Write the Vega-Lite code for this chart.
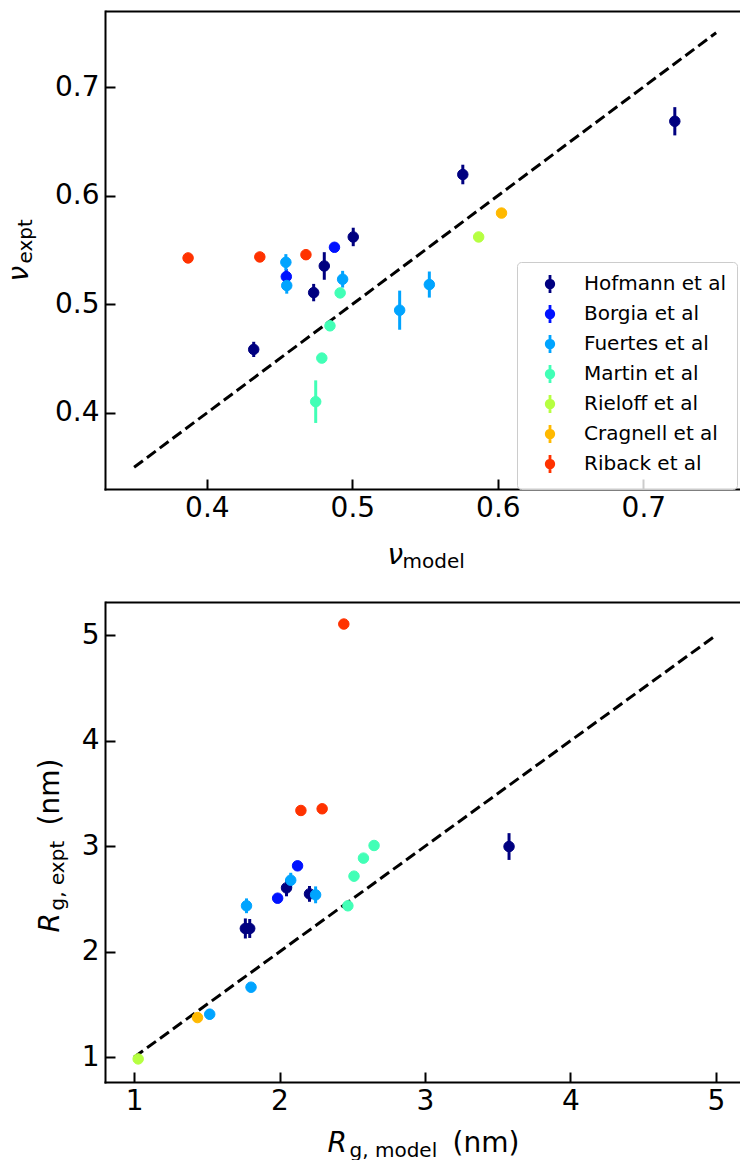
{
  "$schema": "https://vega.github.io/schema/vega-lite/v6.json",
  "padding": {"left": 5, "top": 11, "right": 0, "bottom": 0},
  "background": "white",
  "config": {
    "view": {"stroke": null},
    "font": "DejaVu Sans",
    "axis": {
      "labelFont": "DejaVu Sans", "labelFontSize": 28, "labelColor": "black",
      "titleFont": "DejaVu Sans", "titleColor": "black", "titleFontWeight": "normal",
      "domainColor": "black", "domainWidth": 2, "domainCap": "square",
      "tickColor": "black", "tickWidth": 2, "grid": false,
      "labelFlush": false, "labelOverlap": false
    },
    "legend": {
      "labelFont": "DejaVu Sans", "labelFontSize": 20, "labelColor": "black",
      "padding": 10, "rowPadding": 0, "fillColor": "rgba(255,255,255,0.8)",
      "strokeColor": "#cccccc", "cornerRadius": 4, "labelLimit": 300
    }
  },
  "datasets": {
    "nu": [
      {"group": "Hofmann et al", "x": 0.7216, "y": 0.6685, "lo": 0.6555, "hi": 0.6815},
      {"group": "Hofmann et al", "x": 0.5759, "y": 0.6195, "lo": 0.6105, "hi": 0.6285},
      {"group": "Hofmann et al", "x": 0.5006, "y": 0.562, "lo": 0.5535, "hi": 0.5705},
      {"group": "Hofmann et al", "x": 0.4807, "y": 0.5353, "lo": 0.5226, "hi": 0.548},
      {"group": "Hofmann et al", "x": 0.4734, "y": 0.5108, "lo": 0.5028, "hi": 0.5188},
      {"group": "Hofmann et al", "x": 0.4322, "y": 0.4585, "lo": 0.4515, "hi": 0.4655},
      {"group": "Borgia et al", "x": 0.4877, "y": 0.5525, "lo": 0.5495, "hi": 0.5555},
      {"group": "Borgia et al", "x": 0.4546, "y": 0.5255, "lo": 0.5185, "hi": 0.5325},
      {"group": "Fuertes et al", "x": 0.4543, "y": 0.5387, "lo": 0.5312, "hi": 0.5462},
      {"group": "Fuertes et al", "x": 0.4549, "y": 0.5173, "lo": 0.5098, "hi": 0.5248},
      {"group": "Fuertes et al", "x": 0.4933, "y": 0.5231, "lo": 0.5154, "hi": 0.5308},
      {"group": "Fuertes et al", "x": 0.5325, "y": 0.4946, "lo": 0.4766, "hi": 0.5126},
      {"group": "Fuertes et al", "x": 0.5529, "y": 0.5182, "lo": 0.5062, "hi": 0.5302},
      {"group": "Martin et al", "x": 0.4916, "y": 0.5105, "lo": 0.5065, "hi": 0.5145},
      {"group": "Martin et al", "x": 0.4846, "y": 0.4802, "lo": 0.4762, "hi": 0.4842},
      {"group": "Martin et al", "x": 0.479, "y": 0.4505, "lo": 0.4465, "hi": 0.4545},
      {"group": "Martin et al", "x": 0.4748, "y": 0.4104, "lo": 0.3908, "hi": 0.43},
      {"group": "Rieloff et al", "x": 0.5868, "y": 0.562, "lo": 0.56, "hi": 0.564},
      {"group": "Cragnell et al", "x": 0.6025, "y": 0.584, "lo": 0.581, "hi": 0.587},
      {"group": "Riback et al", "x": 0.3871, "y": 0.5427, "lo": 0.5427, "hi": 0.5427},
      {"group": "Riback et al", "x": 0.4364, "y": 0.5436, "lo": 0.5436, "hi": 0.5436},
      {"group": "Riback et al", "x": 0.4681, "y": 0.5457, "lo": 0.5457, "hi": 0.5457}
    ],
    "nuLine": [{"x": 0.35, "y": 0.35}, {"x": 0.75, "y": 0.75}],
    "rg": [
      {"group": "Hofmann et al", "x": 3.578, "y": 2.998, "lo": 2.871, "hi": 3.125},
      {"group": "Hofmann et al", "x": 1.765, "y": 2.221, "lo": 2.126, "hi": 2.316},
      {"group": "Hofmann et al", "x": 1.795, "y": 2.221, "lo": 2.131, "hi": 2.311},
      {"group": "Hofmann et al", "x": 2.048, "y": 2.606, "lo": 2.526, "hi": 2.686},
      {"group": "Hofmann et al", "x": 2.206, "y": 2.549, "lo": 2.474, "hi": 2.624},
      {"group": "Borgia et al", "x": 1.987, "y": 2.508, "lo": 2.488, "hi": 2.528},
      {"group": "Borgia et al", "x": 2.124, "y": 2.815, "lo": 2.795, "hi": 2.835},
      {"group": "Fuertes et al", "x": 1.773, "y": 2.436, "lo": 2.366, "hi": 2.506},
      {"group": "Fuertes et al", "x": 2.077, "y": 2.679, "lo": 2.609, "hi": 2.749},
      {"group": "Fuertes et al", "x": 2.248, "y": 2.54, "lo": 2.46, "hi": 2.62},
      {"group": "Fuertes et al", "x": 1.804, "y": 1.664, "lo": 1.634, "hi": 1.694},
      {"group": "Fuertes et al", "x": 1.52, "y": 1.408, "lo": 1.358, "hi": 1.458},
      {"group": "Martin et al", "x": 2.47, "y": 2.436, "lo": 2.416, "hi": 2.456},
      {"group": "Martin et al", "x": 2.512, "y": 2.717, "lo": 2.697, "hi": 2.737},
      {"group": "Martin et al", "x": 2.577, "y": 2.888, "lo": 2.868, "hi": 2.908},
      {"group": "Martin et al", "x": 2.65, "y": 3.008, "lo": 2.988, "hi": 3.028},
      {"group": "Rieloff et al", "x": 1.028, "y": 0.984, "lo": 0.964, "hi": 1.004},
      {"group": "Cragnell et al", "x": 1.436, "y": 1.376, "lo": 1.356, "hi": 1.396},
      {"group": "Riback et al", "x": 2.442, "y": 5.108, "lo": 5.108, "hi": 5.108},
      {"group": "Riback et al", "x": 2.147, "y": 3.34, "lo": 3.34, "hi": 3.34},
      {"group": "Riback et al", "x": 2.293, "y": 3.356, "lo": 3.356, "hi": 3.356}
    ],
    "rgLine": [{"x": 1, "y": 1}, {"x": 5, "y": 5}]
  },
  "spacing": 31,
  "resolve": {
    "scale": {"fill": "independent", "stroke": "independent"},
    "legend": {"fill": "independent", "stroke": "independent"}
  },
  "vconcat": [
    {
      "width": 635,
      "height": 478,
      "resolve": {"axis": {"x": "independent", "y": "independent"}},
      "layer": [
        {
          "data": {"name": "nuLine"},
          "mark": {"type": "line", "color": "black", "strokeWidth": 3, "strokeDash": [11, 5]},
          "encoding": {
            "x": {"field": "x", "type": "quantitative",
              "scale": {"domain": [0.33, 0.7664], "nice": false, "zero": false},
              "axis": {"orient": "bottom", "values": [0.4, 0.5, 0.6, 0.7], "format": ".1f",
                "tickSize": -10, "labelPadding": 15,
                "title": "ν", "titleFontStyle": "italic", "titleFontSize": 28,
                "titleX": 282, "titleY": 74, "titleAlign": "left", "titleBaseline": "alphabetic", "titleAngle": 0}},
            "y": {"field": "y", "type": "quantitative",
              "scale": {"domain": [0.33, 0.77], "nice": false, "zero": false},
              "axis": {"orient": "left", "values": [0.4, 0.5, 0.6, 0.7], "format": ".1f",
                "tickSize": -10, "labelPadding": 16,
                "title": "ν", "titleFontStyle": "italic", "titleFontSize": 28,
                "titleX": -78, "titleY": 270, "titleAlign": "left", "titleBaseline": "alphabetic", "titleAngle": 270}}
          }
        },
        {
          "data": {"name": "nu"},
          "mark": {"type": "rule", "strokeWidth": 3},
          "encoding": {
            "x": {"field": "x", "type": "quantitative",
              "scale": {"domain": [0.33, 0.7664], "nice": false, "zero": false},
              "axis": {"orient": "bottom", "domain": false, "ticks": false, "labels": false,
                "title": "model", "titleFontSize": 20,
                "titleX": 297, "titleY": 78, "titleAlign": "left", "titleBaseline": "alphabetic", "titleAngle": 0}},
            "y": {"field": "lo", "type": "quantitative",
              "scale": {"domain": [0.33, 0.77], "nice": false, "zero": false},
              "axis": {"orient": "left", "domain": false, "ticks": false, "labels": false,
                "values": [0.77], "grid": true, "gridColor": "black", "gridWidth": 2, "gridOpacity": 1,
                "title": "expt", "titleFontSize": 20,
                "titleX": -74, "titleY": 252, "titleAlign": "left", "titleBaseline": "alphabetic", "titleAngle": 270}},
            "y2": {"field": "hi"},
            "stroke": {"field": "group", "type": "nominal",
              "scale": {"domain": ["Hofmann et al", "Borgia et al", "Fuertes et al", "Martin et al", "Rieloff et al", "Cragnell et al", "Riback et al"],
                "range": ["#000080", "#0012ff", "#00a4ff", "#41ffb6", "#b6ff41", "#ffb900", "#ff3200"]},
              "legend": {"title": null, "orient": "none", "legendX": 412, "legendY": 251,
                "symbolType": "M-0.36,0A0.36,0.36,0,1,1,0.36,0A0.36,0.36,0,1,1,-0.36,0ZM0,-0.86L0,0.86",
                "symbolSize": 441, "symbolStrokeWidth": 2.8, "symbolOffset": 11, "labelOffset": 22}}
          }
        },
        {
          "data": {"name": "nu"},
          "mark": {"type": "point", "shape": "circle", "filled": true, "size": 110, "opacity": 1, "strokeWidth": 1},
          "encoding": {
            "x": {"field": "x", "type": "quantitative",
              "scale": {"domain": [0.33, 0.7664], "nice": false, "zero": false}, "axis": null},
            "y": {"field": "y", "type": "quantitative",
              "scale": {"domain": [0.33, 0.77], "nice": false, "zero": false}, "axis": null},
            "fill": {"field": "group", "type": "nominal",
              "scale": {"domain": ["Hofmann et al", "Borgia et al", "Fuertes et al", "Martin et al", "Rieloff et al", "Cragnell et al", "Riback et al"],
                "range": ["#000080", "#0012ff", "#00a4ff", "#41ffb6", "#b6ff41", "#ffb900", "#ff3200"]},
              "legend": {"title": null, "orient": "none", "legendX": 412, "legendY": 251,
                "symbolType": "M-0.36,0A0.36,0.36,0,1,1,0.36,0A0.36,0.36,0,1,1,-0.36,0ZM0,-0.86L0,0.86",
                "symbolSize": 441, "symbolStrokeWidth": 2.8, "symbolOffset": 11, "labelOffset": 22}},
            "stroke": {"field": "group", "type": "nominal",
              "scale": {"domain": ["Hofmann et al", "Borgia et al", "Fuertes et al", "Martin et al", "Rieloff et al", "Cragnell et al", "Riback et al"],
                "range": ["#000080", "#0012ff", "#00a4ff", "#41ffb6", "#b6ff41", "#ffb900", "#ff3200"]},
              "legend": {"title": null, "orient": "none", "legendX": 412, "legendY": 251,
                "symbolType": "M-0.36,0A0.36,0.36,0,1,1,0.36,0A0.36,0.36,0,1,1,-0.36,0ZM0,-0.86L0,0.86",
                "symbolSize": 441, "symbolStrokeWidth": 2.8, "symbolOffset": 11, "labelOffset": 22}}
          }
        }
      ]
    },
    {
      "width": 635,
      "height": 480,
      "resolve": {"axis": {"x": "independent", "y": "independent"}},
      "layer": [
        {
          "data": {"name": "rgLine"},
          "mark": {"type": "line", "color": "black", "strokeWidth": 3, "strokeDash": [11, 5]},
          "encoding": {
            "x": {"field": "x", "type": "quantitative",
              "scale": {"domain": [0.8, 5.166], "nice": false, "zero": false},
              "axis": {"orient": "bottom", "values": [1, 2, 3, 4, 5], "format": "d",
                "tickSize": -10, "labelPadding": 15,
                "title": "R", "titleFontStyle": "italic", "titleFontSize": 28,
                "titleX": 222, "titleY": 69, "titleAlign": "left", "titleBaseline": "alphabetic", "titleAngle": 0}},
            "y": {"field": "y", "type": "quantitative",
              "scale": {"domain": [0.765, 5.317], "nice": false, "zero": false},
              "axis": {"orient": "left", "values": [1, 2, 3, 4, 5], "format": "d",
                "tickSize": -10, "labelPadding": 16,
                "title": "R", "titleFontStyle": "italic", "titleFontSize": 28,
                "titleX": -47, "titleY": 330, "titleAlign": "left", "titleBaseline": "alphabetic", "titleAngle": 270}}
          }
        },
        {
          "data": {"name": "rg"},
          "mark": {"type": "rule", "strokeWidth": 3},
          "encoding": {
            "x": {"field": "x", "type": "quantitative",
              "scale": {"domain": [0.8, 5.166], "nice": false, "zero": false},
              "axis": {"orient": "bottom", "domain": false, "ticks": false, "labels": false,
                "title": "g, model", "titleFontSize": 20,
                "titleX": 244, "titleY": 74, "titleAlign": "left", "titleBaseline": "alphabetic", "titleAngle": 0}},
            "y": {"field": "lo", "type": "quantitative",
              "scale": {"domain": [0.765, 5.317], "nice": false, "zero": false},
              "axis": {"orient": "left", "domain": false, "ticks": false, "labels": false,
                "values": [5.317], "grid": true, "gridColor": "black", "gridWidth": 2, "gridOpacity": 1,
                "title": "g, expt", "titleFontSize": 20,
                "titleX": -42, "titleY": 308, "titleAlign": "left", "titleBaseline": "alphabetic", "titleAngle": 270}},
            "y2": {"field": "hi"},
            "stroke": {"field": "group", "type": "nominal",
              "scale": {"domain": ["Hofmann et al", "Borgia et al", "Fuertes et al", "Martin et al", "Rieloff et al", "Cragnell et al", "Riback et al"],
                "range": ["#000080", "#0012ff", "#00a4ff", "#41ffb6", "#b6ff41", "#ffb900", "#ff3200"]},
              "legend": null}
          }
        },
        {
          "data": {"name": "rg"},
          "mark": {"type": "point", "shape": "circle", "filled": true, "size": 110, "opacity": 1, "strokeWidth": 1},
          "encoding": {
            "x": {"field": "x", "type": "quantitative",
              "scale": {"domain": [0.8, 5.166], "nice": false, "zero": false},
              "axis": {"orient": "bottom", "domain": false, "ticks": false, "labels": false,
                "title": "(nm)", "titleFontSize": 28,
                "titleX": 347, "titleY": 69, "titleAlign": "left", "titleBaseline": "alphabetic", "titleAngle": 0}},
            "y": {"field": "y", "type": "quantitative",
              "scale": {"domain": [0.765, 5.317], "nice": false, "zero": false},
              "axis": {"orient": "left", "domain": false, "ticks": false, "labels": false,
                "title": "(nm)", "titleFontSize": 28,
                "titleX": -47, "titleY": 223, "titleAlign": "left", "titleBaseline": "alphabetic", "titleAngle": 270}},
            "fill": {"field": "group", "type": "nominal",
              "scale": {"domain": ["Hofmann et al", "Borgia et al", "Fuertes et al", "Martin et al", "Rieloff et al", "Cragnell et al", "Riback et al"],
                "range": ["#000080", "#0012ff", "#00a4ff", "#41ffb6", "#b6ff41", "#ffb900", "#ff3200"]},
              "legend": null},
            "stroke": {"field": "group", "type": "nominal",
              "scale": {"domain": ["Hofmann et al", "Borgia et al", "Fuertes et al", "Martin et al", "Rieloff et al", "Cragnell et al", "Riback et al"],
                "range": ["#000080", "#0012ff", "#00a4ff", "#41ffb6", "#b6ff41", "#ffb900", "#ff3200"]},
              "legend": null}
          }
        }
      ]
    }
  ]
}
